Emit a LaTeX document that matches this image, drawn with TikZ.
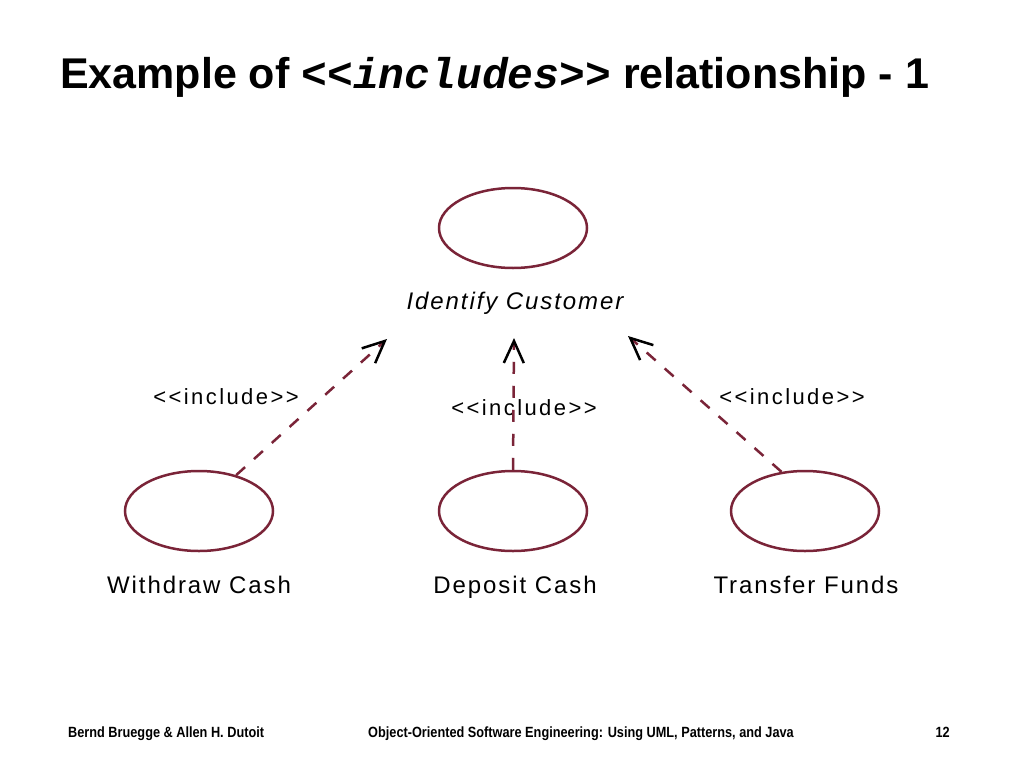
\documentclass[tikz,border=0pt]{standalone}
\usepackage{fontspec}
\setmainfont{Liberation Sans}
\newfontfamily\stereoFont{Liberation Mono}
\newfontfamily\pixelFont{Liberation Sans}[LetterSpace=8]
\newfontfamily\tagFont{Liberation Sans}[LetterSpace=11]
\newfontfamily\footFont{Liberation Sans}[FakeStretch=0.86]
\usetikzlibrary{shapes.geometric,arrows.meta}
\definecolor{umlRed}{RGB}{122,36,56}

\begin{document}
\begin{tikzpicture}
[x=1pt,y=-1pt,
  useCaseDecorate/.style={shape=ellipse,draw=umlRed,line width=2.5pt,
    minimum width=148pt,minimum height=80pt,inner sep=0pt},%
  lineDecorate/.style={umlRed,line width=2.5pt,dash pattern=on 12pt off 12pt,
    -{Straight Barb[black,length=22pt,width=20pt,line width=2.5pt]}},%
  nameDecorate/.style={anchor=base,inner sep=0pt,
    font=\pixelFont\fontsize{24pt}{28pt}\selectfont},%
  stereoDecorate/.style={anchor=base,inner sep=0pt,
    font=\tagFont\fontsize{22pt}{26pt}\selectfont},%
  footDecorate/.style={inner sep=0pt,
    font=\footFont\bfseries\fontsize{14.8pt}{17pt}\selectfont}]
\useasboundingbox[fill=white] (0,0) rectangle (1024,768);
%% title
\node (title) at (60,88) [anchor=base west,inner sep=0pt,
  font=\bfseries\fontsize{43pt}{50pt}\selectfont]
  {Example of {\stereoFont\bfseries\itshape<{}<includes>{}>} relationship - 1};
%% use cases
\foreach \nodename/\x/\y in {identify/513/228, withdraw/199/511,
  deposit/513/511, transfer/805/511}
{
  \node (\nodename) at (\x,\y) [useCaseDecorate] {};
}
%% use case names
\node (identifyName) at (515,309) [nameDecorate] {\itshape Identify Customer};
\foreach \nodename/\x/\text in {withdraw/199/Withdraw Cash,
  deposit/515/Deposit Cash, transfer/806/Transfer Funds}
{
  \node (\nodename Name) at (\x,593) [nameDecorate] {\text};
}
%% stereotype labels
\foreach \nodename/\x/\y in {withdraw/226/404, deposit/524/415, transfer/792/404}
{
  \node (\nodename Include) at (\x,\y) [stereoDecorate] {<{}<include>{}>};
}
%% arrow tips below the name
\coordinate (withdrawTip) at (387,339);
\coordinate (depositTip) at (514,338);
\coordinate (transferTip) at (628,336);
%% include dependencies
\path
  (withdraw.44) edge[lineDecorate] (withdrawTip)
  (deposit.north) edge[lineDecorate] (depositTip)
  (transfer.121) edge[lineDecorate] (transferTip);
%% footer
\node (author) at (68,737) [footDecorate,anchor=base west]
  {Bernd Bruegge \& Allen H. Dutoit};
\node (book) at (581,737) [footDecorate,anchor=base]
  {Object-Oriented Software Engineering: Using UML, Patterns, and Java};
\node (page) at (950,737) [footDecorate,anchor=base east] {12};
\end{tikzpicture}
\end{document}
